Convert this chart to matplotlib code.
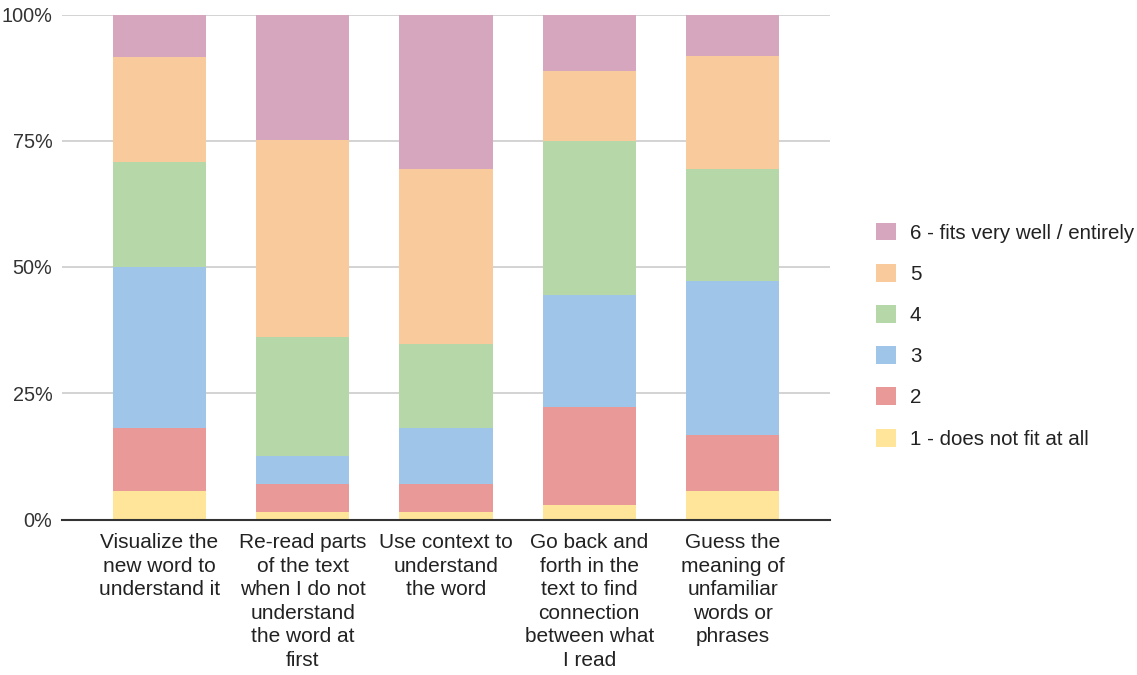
import matplotlib
matplotlib.use("Agg")
import matplotlib.pyplot as plt
from matplotlib.patches import Patch
from matplotlib.ticker import FuncFormatter

plt.rcParams["font.family"] = ["Liberation Sans", "DejaVu Sans"]

categories = [
    "Visualize the\nnew word to\nunderstand it",
    "Re-read parts\nof the text\nwhen I do not\nunderstand\nthe word at\nfirst",
    "Use context to\nunderstand\nthe word",
    "Go back and\nforth in the\ntext to find\nconnection\nbetween what\nI read",
    "Guess the\nmeaning of\nunfamiliar\nwords or\nphrases",
]

series_labels = [
    "1 - does not fit at all",
    "2",
    "3",
    "4",
    "5",
    "6 - fits very well / entirely",
]

# share of answers (%) per rating, one list per rating
rating_1 = [5.6, 1.4, 1.4, 2.8, 5.6]
rating_2 = [12.5, 5.6, 5.6, 19.4, 11.1]
rating_3 = [31.9, 5.6, 11.1, 22.2, 30.6]
rating_4 = [20.8, 23.6, 16.7, 30.6, 22.2]
rating_5 = [20.8, 38.9, 34.7, 13.9, 22.2]
rating_6 = [8.4, 24.9, 30.5, 11.1, 8.3]

series_values = [rating_1, rating_2, rating_3, rating_4, rating_5, rating_6]
colors = ["#FFE599", "#EA9999", "#9FC5E8", "#B6D7A8", "#F9CB9C", "#D5A6BD"]

y_ticks = [0, 25, 50, 75, 100]

fig = plt.figure(figsize=(11.37, 6.75), dpi=100)
ax = fig.add_axes([62 / 1137, 1 - 519.5 / 675, (830 - 62) / 1137, (519.5 - 14.5) / 675])

x = list(range(len(categories)))
bottom = [0.0] * len(categories)
for vals, col, lab in zip(series_values, colors, series_labels):
    ax.bar(x, vals, bottom=bottom, width=0.65, color=col, label=lab,
           linewidth=0, zorder=3)
    bottom = [b + v for b, v in zip(bottom, vals)]

ax.set_xlim(-0.68, len(categories) - 1 + 0.68)
ax.set_ylim(0, 100)
ax.set_yticks(y_ticks)
ax.yaxis.set_major_formatter(FuncFormatter(lambda v, p: f"{int(v)}%"))
ax.set_xticks(x)
ax.set_xticklabels(categories, fontsize=15, color="#222222", linespacing=1.3)
ax.tick_params(axis="x", length=0, pad=10)
ax.tick_params(axis="y", length=0, pad=7, labelsize=14.3, labelcolor="#333333")

ax.grid(axis="y", color="#cccccc", linewidth=1.2, zorder=0)
for s in ["left", "right", "top"]:
    ax.spines[s].set_visible(False)
ax.spines["bottom"].set_color("#333333")
ax.spines["bottom"].set_linewidth(1.5)
ax.spines["bottom"].set_zorder(4)

handles = [Patch(facecolor=c, edgecolor="none", label=l)
           for c, l in zip(colors, series_labels)]
fig.legend(handles[::-1], series_labels[::-1], loc="upper left",
           bbox_to_anchor=(876 / 1137, 1 - 222.5 / 675), frameon=False,
           fontsize=14.8, handlelength=0.97, handleheight=0.97,
           handletextpad=0.68, labelspacing=1.03, borderpad=0,
           borderaxespad=0, labelcolor="#222222")

fig.savefig("out.png", dpi=100, facecolor="white")
